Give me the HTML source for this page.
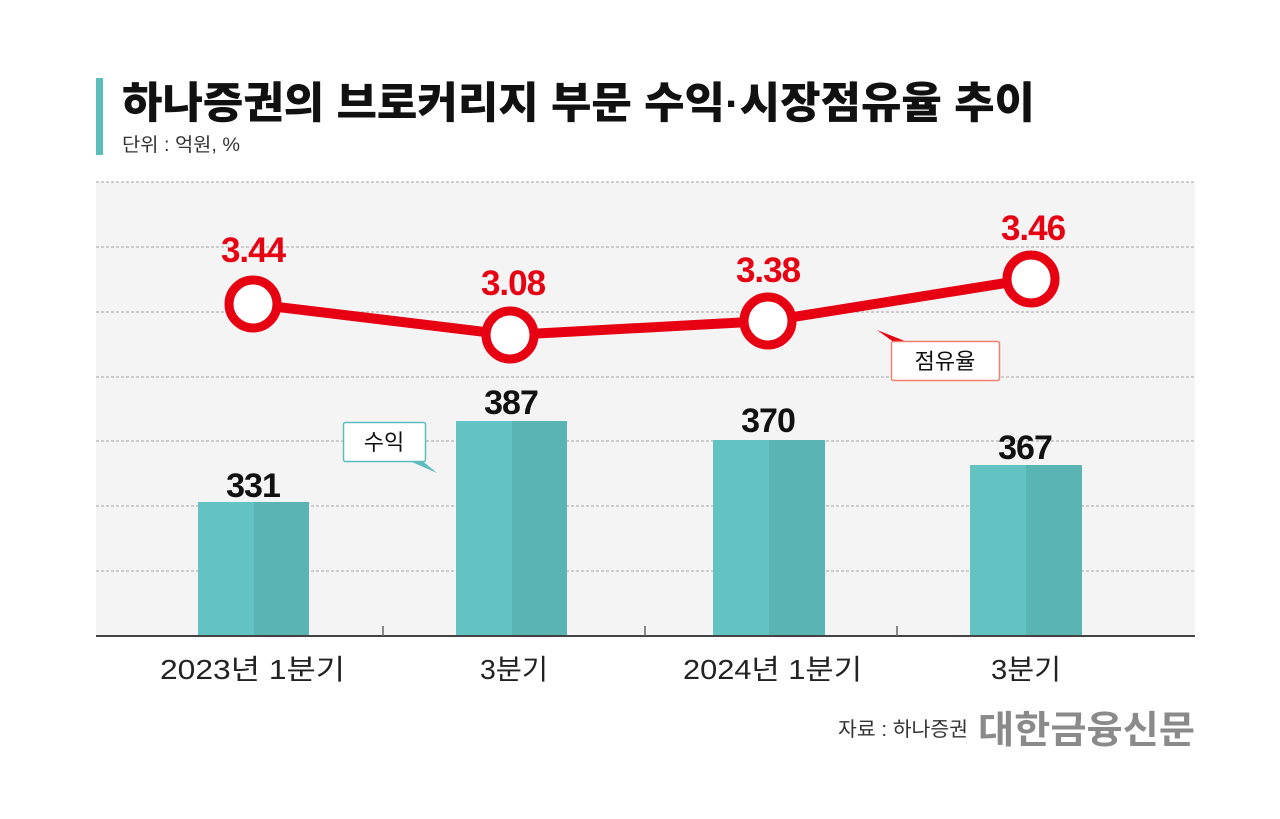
<!DOCTYPE html><html><head><meta charset="utf-8"><style>
body{margin:0;width:1280px;height:814px;background:#fff;overflow:hidden;font-family:"Liberation Sans","Noto Sans CJK KR",sans-serif}
</style></head><body>
<svg width="1280" height="814" xmlns="http://www.w3.org/2000/svg" font-family="Liberation Sans, Noto Sans CJK KR, sans-serif">
<rect x="96" y="78" width="7" height="77" fill="#5cbcbc"/>
<text x="122" y="118" font-size="43" font-weight="900" fill="#111" textLength="913" lengthAdjust="spacingAndGlyphs">하나증권의 브로커리지 부문 수익·시장점유율 추이</text>
<text x="122" y="151" font-size="19" fill="#333" textLength="118" lengthAdjust="spacingAndGlyphs">단위 : 억원, %</text>
<rect x="96" y="182" width="1099" height="454" fill="#f4f4f4"/>
<g stroke="#b5b5b5" stroke-width="1.2" stroke-dasharray="3,2">
<line x1="96" x2="1195" y1="182" y2="182"/><line x1="96" x2="1195" y1="247" y2="247"/><line x1="96" x2="1195" y1="312" y2="312"/><line x1="96" x2="1195" y1="377" y2="377"/><line x1="96" x2="1195" y1="441" y2="441"/><line x1="96" x2="1195" y1="506" y2="506"/><line x1="96" x2="1195" y1="571" y2="571"/></g>
<g><rect x="198" y="502" width="56" height="134" fill="#63c3c3"/><rect x="254" y="502" width="55" height="134" fill="#5ab4b4"/>
<rect x="456" y="421" width="56" height="215" fill="#63c3c3"/><rect x="512" y="421" width="55" height="215" fill="#5ab4b4"/>
<rect x="713" y="440" width="56" height="196" fill="#63c3c3"/><rect x="769" y="440" width="56" height="196" fill="#5ab4b4"/>
<rect x="970" y="465" width="56" height="171" fill="#63c3c3"/><rect x="1026" y="465" width="56" height="171" fill="#5ab4b4"/></g>
<line x1="96" x2="1195" y1="636" y2="636" stroke="#444" stroke-width="2"/>
<g stroke="#666" stroke-width="1.5"><line x1="383" x2="383" y1="626" y2="636"/><line x1="645" x2="645" y1="626" y2="636"/><line x1="897" x2="897" y1="626" y2="636"/></g>
<g font-size="34" font-weight="bold" text-anchor="middle" fill="#111" letter-spacing="-1">
<text x="253" y="497">331</text><text x="511" y="414">387</text><text x="768" y="432">370</text><text x="1025" y="459">367</text></g>
<polyline points="253,304 510,335 768,321 1031,279" fill="none" stroke="#e60012" stroke-width="10"/>
<g fill="#fff" stroke="#e60012" stroke-width="9">
<circle cx="253" cy="304" r="24"/><circle cx="510" cy="335" r="24"/><circle cx="768" cy="321" r="24"/><circle cx="1031" cy="279" r="24"/></g>
<g font-size="35" font-weight="bold" text-anchor="middle" fill="#e60012" letter-spacing="-1">
<text x="253" y="262">3.44</text><text x="513" y="295">3.08</text><text x="768" y="282">3.38</text><text x="1033" y="240">3.46</text></g>
<polygon points="405,459 437,473 420,459" fill="#5cbcbc"/>
<rect x="343.5" y="422.5" width="82" height="39" rx="2" fill="#fff" stroke="#5cbcbc" stroke-width="1.5"/>
<text x="384" y="450" font-size="22" text-anchor="middle" fill="#111">수익</text>
<polygon points="877,330 895,343 910,343" fill="#e60012"/>
<rect x="891.5" y="341.5" width="108" height="39" rx="2" fill="#fff" stroke="#f08070" stroke-width="1.5"/>
<text x="945" y="369" font-size="22" text-anchor="middle" fill="#111">점유율</text>
<g font-size="28" fill="#222" lengthAdjust="spacingAndGlyphs">
<text x="160" y="679" textLength="185" lengthAdjust="spacingAndGlyphs">2023년 1분기</text><text x="480" y="679" textLength="68" lengthAdjust="spacingAndGlyphs">3분기</text><text x="683" y="679" textLength="179" lengthAdjust="spacingAndGlyphs">2024년 1분기</text><text x="991" y="679" textLength="70" lengthAdjust="spacingAndGlyphs">3분기</text></g>
<text x="838" y="736" font-size="20" fill="#333" textLength="130" lengthAdjust="spacingAndGlyphs">자료 : 하나증권</text>
<text x="978" y="743" font-size="38" font-weight="bold" fill="#8a8a8a" textLength="217" lengthAdjust="spacingAndGlyphs">대한금융신문</text>
</svg></body></html>
